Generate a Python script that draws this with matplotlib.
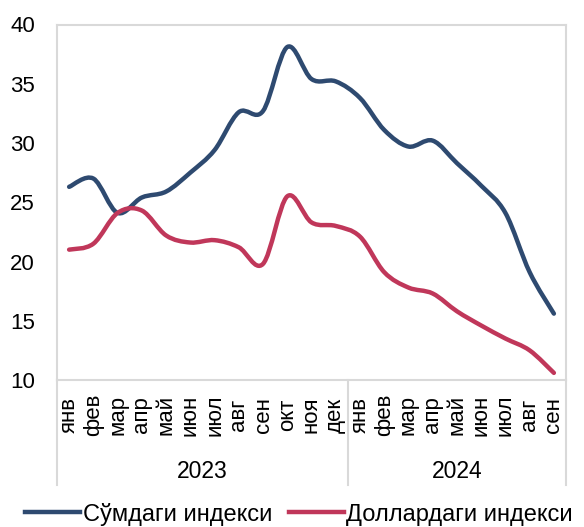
import numpy as np
import matplotlib.pyplot as plt
from matplotlib.path import Path
from matplotlib.patches import PathPatch
from matplotlib.lines import Line2D
from matplotlib.transforms import blended_transform_factory

plt.rcParams['font.family'] = ['Liberation Sans', 'DejaVu Sans']

# --- data ---
months = ["янв", "фев", "мар", "апр", "май", "июн", "июл", "авг", "сен",
          "окт", "ноя", "дек",
          "янв", "фев", "мар", "апр", "май", "июн", "июл", "авг", "сен"]
years = ["2023", "2024"]
year_counts = [12, 9]

sum_index = [26.3, 27.0, 24.1, 25.4, 25.9, 27.5, 29.4, 32.6, 32.7, 38.1, 35.4, 35.2,
             33.8, 31.1, 29.7, 30.2, 28.3, 26.4, 24.1, 19.1, 15.6]
usd_index = [21.0, 21.5, 24.1, 24.3, 22.2, 21.6, 21.8, 21.2, 19.8, 25.5, 23.3, 23.0,
             22.1, 19.1, 17.8, 17.3, 15.8, 14.6, 13.5, 12.5, 10.6]

labels = ["Сўмдаги индекси", "Доллардаги индекси"]
colors = ["#2E4A70", "#C0375A"]


def smooth_path(y):
    # excel-like smoothed line: catmull-rom segments as cubic beziers
    y = np.asarray(y, dtype=float)
    x = np.arange(len(y), dtype=float)
    pts = np.column_stack([x, y])
    ext = np.vstack([pts[0], pts, pts[-1]])
    verts = [pts[0]]
    codes = [Path.MOVETO]
    for i in range(len(pts) - 1):
        p0, p1, p2, p3 = ext[i], ext[i + 1], ext[i + 2], ext[i + 3]
        c1 = p1 + (p2 - p0) / 6.0
        c2 = p2 - (p3 - p1) / 6.0
        verts += [c1, c2, p2]
        codes += [Path.CURVE4] * 3
    return Path(verts, codes)


fig = plt.figure(figsize=(5.84, 5.27), dpi=100)
W, H = 584, 527
ax = fig.add_axes([57 / W, (H - 380) / H, (566 - 57) / W, (380 - 24.5) / H])

for vals, c in zip([sum_index, usd_index], colors):
    ax.add_patch(PathPatch(smooth_path(vals), facecolor="none", edgecolor=c,
                           lw=3.2, capstyle="round", joinstyle="round"))

n = len(months)
ax.set_xlim(-0.5, n - 0.5)
ax.set_ylim(10, 40)
ax.set_yticks(np.arange(10, 41, 5))
ax.tick_params(axis="y", length=0, pad=16, labelsize=16)
ax.set_xticks([])

for s in ax.spines.values():
    s.set_color("#D9D9D9")
    s.set_linewidth(1.5)

# --- two-level category axis ---
trans = blended_transform_factory(ax.transData, ax.transAxes)
ax_h = 380 - 24.5
for i, m in enumerate(months):
    ax.text(i, -35 / ax_h, m, transform=trans, rotation=90, ha="center",
            va="center", fontsize=16, color="#000000")

edges = np.concatenate([[0], np.cumsum(year_counts)]) - 0.5
for e in edges:
    ax.plot([e, e], [0, -105 / ax_h], transform=trans, color="#D9D9D9",
            lw=1.5, clip_on=False)
for k, yr in enumerate(years):
    mid = (edges[k] + edges[k + 1]) / 2
    ax.text(mid, -91 / ax_h, yr, transform=trans, ha="center", va="center",
            fontsize=16.5)

handles = [Line2D([], [], color=c, lw=3.2) for c in colors]
fig.legend(handles, labels, loc="center", bbox_to_anchor=(299 / W, 1 - 514 / H),
           ncol=2, frameon=False, fontsize=17, handlelength=2.35,
           handletextpad=0.1, columnspacing=0.7, borderaxespad=0,
           borderpad=0)

fig.savefig("out.png", dpi=100)
